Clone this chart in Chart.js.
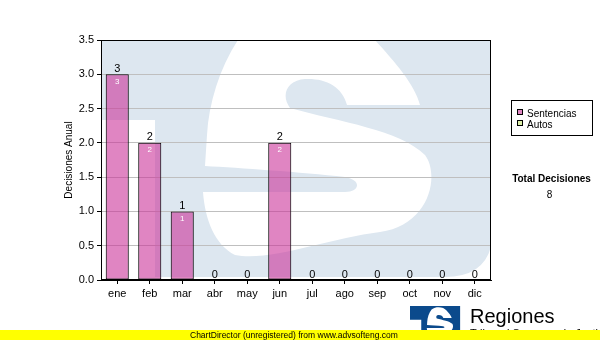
<!DOCTYPE html>
<html><head><meta charset="utf-8">
<script src="https://cdn.jsdelivr.net/npm/chart.js@4/dist/chart.umd.min.js"></script>
<style>html,body{margin:0;padding:0;background:#fff}#wrap{width:600px;height:340px;position:relative}</style>
</head><body><div id="wrap"><canvas id="c" width="600" height="340"></canvas></div>
<script>
const months = ['ene','feb','mar','abr','may','jun','jul','ago','sep','oct','nov','dic'];
const sentencias = [3,2,1,0,0,2,0,0,0,0,0,0];
const autos = [0,0,0,0,0,0,0,0,0,0,0,0];
const seriesNames = ['Sentencias','Autos'];
const yTicks = [0,0.5,1,1.5,2,2.5,3,3.5];
const yTitle = 'Decisiones Anual';
const totalTitle = 'Total Decisiones';
const footerText = 'ChartDirector (unregistered) from www.advsofteng.com';
const logoTitle = 'Regiones';
const logoSub = 'Tribunal Supremo de Justicia';

const FONT = '"Liberation Sans", Arial, sans-serif';
const pink = 'rgba(204,51,153,0.6)';
const green = '#dcefa8';

function logoPath(ctx, blue, white){
  ctx.fillStyle = blue;
  ctx.beginPath();
  ctx.rect(57,0,148,120);
  ctx.rect(155,0,50,277);
  ctx.moveTo(205,0); ctx.lineTo(493,0); ctx.lineTo(493,229);
  ctx.quadraticCurveTo(493,277,445,277); ctx.lineTo(205,277); ctx.closePath();
  ctx.fill();
  ctx.fillStyle = white;
  ctx.beginPath();
  ctx.moveTo(420,105);
  ctx.lineTo(347,105);
  ctx.bezierCurveTo(342,86,325,78,305,79);
  ctx.bezierCurveTo(288,80,280,94,290,108);
  ctx.bezierCurveTo(340,122,400,130,425,155);
  ctx.bezierCurveTo(440,175,430,225,380,232);
  ctx.bezierCurveTo(330,238,270,262,235,255);
  ctx.bezierCurveTo(215,245,205,220,203,192);
  ctx.lineTo(345,192);
  ctx.bezierCurveTo(360,192,362,180,345,177);
  ctx.bezierCurveTo(300,172,240,168,205,166);
  ctx.lineTo(207,135);
  ctx.bezierCurveTo(209,100,222,60,245,30);
  ctx.bezierCurveTo(290,0,350,10,375,40);
  ctx.bezierCurveTo(395,62,415,85,420,105);
  ctx.closePath();
  ctx.fill();
}

const deco = {
  id:'deco',
  beforeDraw(chart){
    const {ctx, chartArea:a} = chart;
    ctx.save();
    ctx.fillStyle='#fff'; ctx.fillRect(0,0,chart.width,chart.height);
    ctx.beginPath(); ctx.rect(a.left,a.top,a.right-a.left,a.bottom-a.top); ctx.clip();
    logoPath(ctx,'#dde7f0','#ffffff');
    ctx.restore();
  },
  afterDatasetsDraw(chart){
    const {ctx, chartArea:a} = chart;
    const ys = chart.scales.y;
    const m0 = chart.getDatasetMeta(0);
    ctx.save();
    ctx.textAlign='center'; ctx.textBaseline='alphabetic';
    months.forEach((m,i)=>{
      const total = chart.data.datasets.reduce((s,d)=>s+d.data[i],0);
      const x = m0.data[i].x;
      const y = ys.getPixelForValue(total);
      ctx.fillStyle='#000'; ctx.font='11px '+FONT;
      ctx.fillText(String(total), x, y-2.5);
      if (sentencias[i] > 0){
        ctx.fillStyle='#fff'; ctx.font='8px '+FONT;
        ctx.fillText(String(sentencias[i]), x, m0.data[i].y+9.5);
      }
    });
    ctx.strokeStyle='#000'; ctx.lineWidth=1;
    ctx.strokeRect(a.left+0.5, a.top+0.5, a.right-a.left-1, a.bottom-a.top-1);
    ctx.restore();
  },
  afterDraw(chart){
    const ctx = chart.ctx;
    ctx.save();
    // legend
    ctx.strokeStyle='#000'; ctx.lineWidth=1;
    ctx.strokeRect(511.5,100.5,81,35);
    const cols=[pink, green];
    chart.data.datasets.forEach((d,k)=>{
      const yy = 109 + k*11;
      ctx.fillStyle='#fff'; ctx.fillRect(517,yy,6,6);
      ctx.fillStyle=cols[k]; ctx.fillRect(517,yy,6,6);
      ctx.strokeRect(517.5,yy+0.5,5,5);
      ctx.fillStyle='#000'; ctx.font='10px '+FONT; ctx.textAlign='left';
      ctx.fillText(d.label, 527, 117+k*11);
    });
    // total
    const total = chart.data.datasets.reduce((s,d)=>s+d.data.reduce((a,b)=>a+b,0),0);
    ctx.textAlign='center';
    ctx.font='bold 10px '+FONT; ctx.fillStyle='#000';
    ctx.fillText(totalTitle, 551.5, 181.5);
    ctx.font='10px '+FONT;
    ctx.fillText(String(total), 549.5, 198);
    // small logo
    ctx.save();
    ctx.translate(427,306); ctx.scale(0.115,0.115); ctx.translate(-205,0);
    logoPath(ctx,'#0b4a8c','#ffffff');
    ctx.restore();
    ctx.textAlign='left'; ctx.fillStyle='#000';
    ctx.font='20px '+FONT; ctx.fillText(logoTitle, 470, 323);
    ctx.font='11px '+FONT; ctx.fillText(logoSub, 470, 337);
    // footer
    ctx.fillStyle='#ffff00'; ctx.fillRect(0,330,600,10);
    ctx.fillStyle='#000'; ctx.font='8.5px '+FONT;
    ctx.fillText(footerText, 190, 338);
    ctx.restore();
  }
};

new Chart(document.getElementById('c'), {
  type:'bar',
  data:{
    labels: months,
    datasets:[
      {label:seriesNames[0], data:sentencias, backgroundColor:pink, borderColor:'#000', borderWidth:1, borderSkipped:false},
      {label:seriesNames[1], data:autos, backgroundColor:green, borderColor:'#000', borderWidth:1, borderSkipped:false}
    ]
  },
  options:{
    responsive:false, animation:false, devicePixelRatio:1,
    layout:{padding:{top:40,right:109,left:0,bottom:0}},
    datasets:{bar:{categoryPercentage:1, barPercentage:0.71}},
    plugins:{legend:{display:false}, tooltip:{enabled:false}},
    scales:{
      x:{
        stacked:true, offset:true,
        grid:{display:true, drawOnChartArea:false, offset:false, tickLength:4, tickColor:'#000'},
        border:{color:'#000'},
        ticks:{color:'#000', font:{family:FONT, size:11}, padding:3, maxRotation:0},
        afterFit(s){ s.height = 60; }
      },
      y:{
        stacked:true, min:yTicks[0], max:yTicks[yTicks.length-1],
        afterBuildTicks(s){ s.ticks = yTicks.map(v=>({value:v})); },
        grid:{color:'#bfbfbf', tickColor:'#000', tickLength:4},
        border:{color:'#000'},
        ticks:{color:'#000', font:{family:FONT, size:11}, padding:3, callback:v=>Number(v).toFixed(1)},
        title:{display:true, text:yTitle, color:'#000', font:{family:FONT, size:10}, padding:{top:63.5,bottom:0}},
        afterFit(s){ s.width = 101; }
      }
    }
  },
  plugins:[deco]
});
</script>
</body></html>
